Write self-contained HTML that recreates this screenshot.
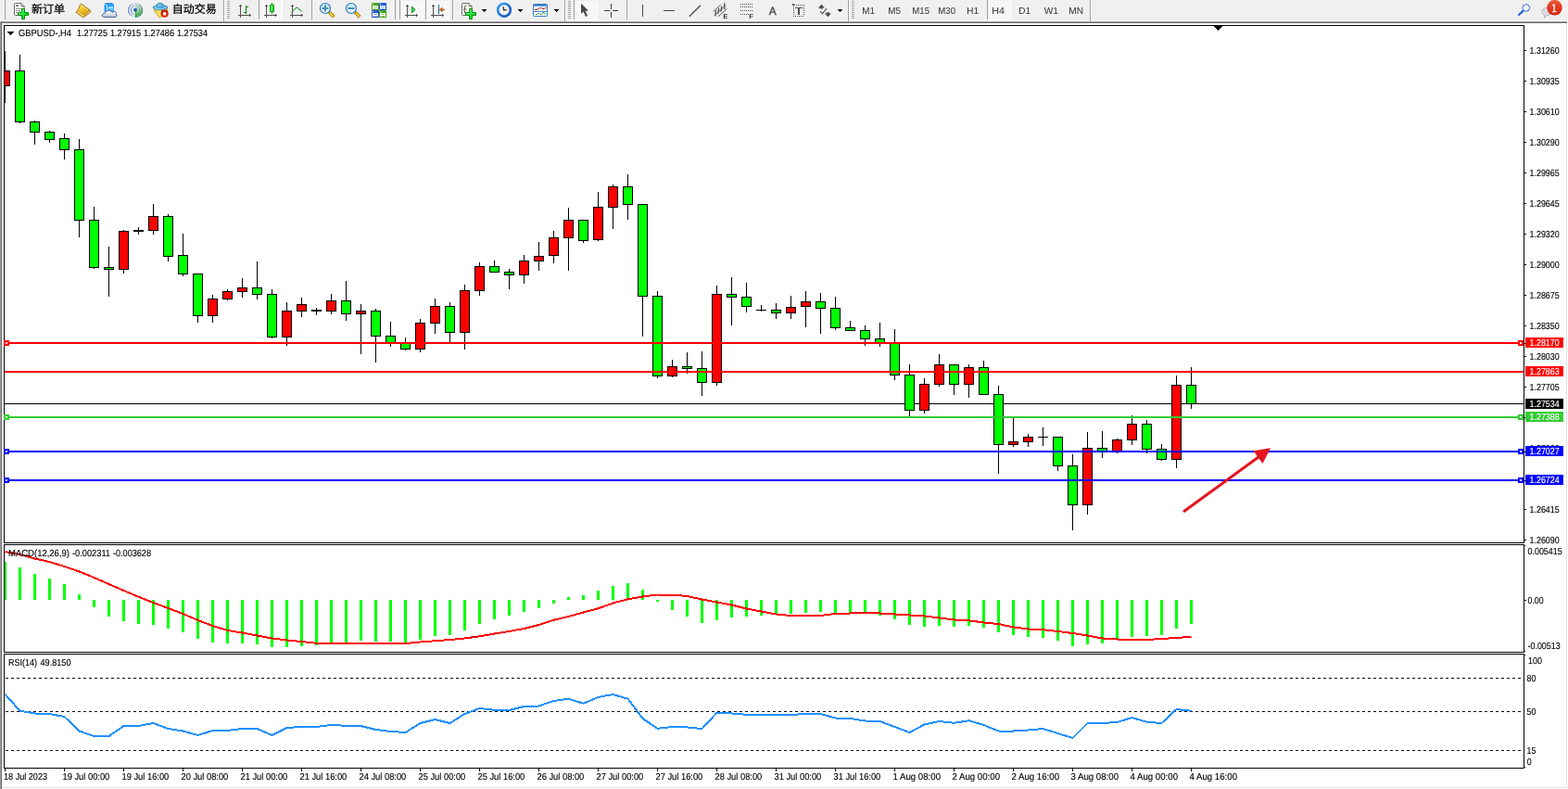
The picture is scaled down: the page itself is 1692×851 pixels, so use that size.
<!DOCTYPE html>
<html lang="zh-CN"><head><meta charset="utf-8"><title>GBPUSD-,H4</title>
<style>html,body{margin:0;padding:0;background:#fff;overflow:hidden}svg{display:block;font-family:"Liberation Sans","Noto Sans CJK SC",sans-serif;text-rendering:geometricPrecision}.c{shape-rendering:crispEdges}</style></head><body>
<svg width="1692" height="851" viewBox="0 0 1692 851">
<rect x="0" y="0" width="1692" height="851" fill="#fff"/>
<g id="toolbar">
<defs><pattern id="hatch" width="2" height="2" patternUnits="userSpaceOnUse"><rect width="2" height="2" fill="#fff"/><rect width="1" height="1" fill="#f0f0f0"/><rect x="1" y="1" width="1" height="1" fill="#f0f0f0"/></pattern><linearGradient id="gplus" x1="0" y1="0" x2="1" y2="1"><stop offset="0" stop-color="#8dff8d"/><stop offset="0.6" stop-color="#12e02c"/><stop offset="1" stop-color="#08b818"/></linearGradient><linearGradient id="ggold" x1="0" y1="0" x2="1" y2="1"><stop offset="0" stop-color="#fff4a8"/><stop offset="0.4" stop-color="#f2c628"/><stop offset="1" stop-color="#c4860c"/></linearGradient><linearGradient id="gcloud" x1="0" y1="0" x2="0" y2="1"><stop offset="0" stop-color="#ffffff"/><stop offset="1" stop-color="#b4c2da"/></linearGradient><linearGradient id="gbox" x1="0" y1="0" x2="1" y2="1"><stop offset="0" stop-color="#1590f2"/><stop offset="1" stop-color="#48bcff"/></linearGradient><linearGradient id="ghat" x1="0" y1="0" x2="1" y2="1"><stop offset="0" stop-color="#8ccdf5"/><stop offset="1" stop-color="#4aa4dc"/></linearGradient><linearGradient id="gface" x1="0" y1="0" x2="1" y2="1"><stop offset="0" stop-color="#f3cf3a"/><stop offset="1" stop-color="#fff48a"/></linearGradient><radialGradient id="gred" cx="0.5" cy="0.7" r="0.7"><stop offset="0" stop-color="#f83000"/><stop offset="1" stop-color="#b81600"/></radialGradient><linearGradient id="gbadge" x1="0" y1="0" x2="0" y2="1"><stop offset="0" stop-color="#ee5535"/><stop offset="1" stop-color="#d82010"/></linearGradient><linearGradient id="glens" x1="0" y1="0" x2="0" y2="1"><stop offset="0" stop-color="#c8ecff"/><stop offset="1" stop-color="#eefcff"/></linearGradient><linearGradient id="gclock" x1="0" y1="0" x2="1" y2="1"><stop offset="0" stop-color="#2a9cff"/><stop offset="1" stop-color="#004cb0"/></linearGradient><linearGradient id="gtitle" x1="0" y1="0" x2="0" y2="1"><stop offset="0" stop-color="#2a6cc0"/><stop offset="1" stop-color="#7ab4ec"/></linearGradient><linearGradient id="ggreen" x1="0" y1="0" x2="1" y2="1"><stop offset="0" stop-color="#4aa818"/><stop offset="1" stop-color="#3a9808"/></linearGradient><linearGradient id="gblue" x1="0" y1="0" x2="1" y2="1"><stop offset="0" stop-color="#3a68e0"/><stop offset="1" stop-color="#0a3cc0"/></linearGradient><linearGradient id="gcandle" x1="0" y1="0" x2="1" y2="0"><stop offset="0" stop-color="#7af07a"/><stop offset="1" stop-color="#20d830"/></linearGradient></defs>
<rect x="0" y="0" width="1692" height="23" fill="#f0f0f0"/>
<rect x="0" y="22" width="1692" height="1" fill="#f6f6f6"/>
<rect x="5" y="0" width="1" height="21" fill="#a0a0a0" class="c"/>
<path d="M16.5 3.5h6.5l3 3v9a1 1 0 0 1 -1 1h-8.5a1 1 0 0 1 -1 -1v-11a1 1 0 0 1 1 -1z" fill="#fff" stroke="#6c6c6c" stroke-width="1"/>
<path d="M23 3.5v3h3" fill="#f4f4f4" stroke="#6c6c6c" stroke-width="1"/>
<rect x="17" y="5" width="3" height="2" fill="#8a8a8a"/>
<rect x="17" y="9" width="6" height="1" fill="#9a9a9a"/>
<rect x="17" y="11" width="5" height="1" fill="#9a9a9a"/>
<rect x="17" y="13" width="3" height="1" fill="#9a9a9a"/>
<path d="M23.5 9.5h3v4h4v3h-4v4h-3v-4h-4v-3h4z" fill="url(#gplus)" stroke="#078a12" stroke-width="1"/>
<text x="34" y="14" font-size="12" fill="#000" font-family='"Liberation Sans","Noto Sans CJK SC",sans-serif' stroke="#000" stroke-width="0.25">新订单</text>
<path d="M87.3 4 L96.8 10.8 L98 12.8 L90 19 L82 13.4 Q85.6 10 86.3 5.4 Z" fill="url(#ggold)" stroke="#a8700c" stroke-width="1" stroke-linejoin="round"/>
<path d="M83 13.3 L84.3 11.9 L91.6 16.9 L90 18.2 Z" fill="#f3d77c"/>
<path d="M91.8 17 L96.6 11.4 L97.3 12.8 L90.6 18.2 Z" fill="#e6d8a0"/>
<path d="M84.3 11.9 L91.6 16.9 L96.6 11" fill="none" stroke="#b07a10" stroke-width="0.7" opacity="0.8"/>
<path d="M87.6 5.6 L95 11" fill="none" stroke="#fff6b8" stroke-width="1" opacity="0.8"/>
<path d="M112.5 4.2 L114 3.4 L121 3.4 L123 5 L123 13 L112.5 13 Z" fill="url(#gbox)"/>
<path d="M112.6 4.4 L115.6 6.2 L115.6 12.6" fill="none" stroke="#e4f4ff" stroke-width="0.9"/>
<path d="M113.4 3.6 L121 3.6 L122.8 5" fill="none" stroke="#3a78d8" stroke-width="0.8"/>
<rect x="117" y="7.6" width="5" height="1.2" fill="#eaf7ff"/>
<rect x="116.4" y="9.6" width="6.2" height="0.9" fill="#7ccfff"/>
<path d="M112.6 18.5 C110.8 18.5 110.1 17.4 110.4 16.2 C110.7 14.9 111.8 14.3 113.2 14.4 C113.5 12.6 115.2 11.4 117.5 11.4 C119.2 11.4 120.4 12.2 121 13.4 C122 12.3 123.8 12.1 124.8 13 C125.6 13.7 125.7 14.6 125.4 15.3 C126.4 16.2 126.1 18.5 124 18.5 Z" fill="url(#gcloud)" stroke="#4a6098" stroke-width="1" stroke-linejoin="round"/>
<defs><linearGradient id="gsig" x1="0" y1="0" x2="1" y2="0"><stop offset="0" stop-color="#2e5cd2"/><stop offset="0.45" stop-color="#9ab4e6"/><stop offset="0.55" stop-color="#8fb4a4"/><stop offset="1" stop-color="#3c7c96"/></linearGradient><linearGradient id="gsigw" x1="0" y1="0" x2="0.3" y2="1"><stop offset="0" stop-color="#d8ecd0" stop-opacity="0.5"/><stop offset="0.55" stop-color="#a4d49c" stop-opacity="0.85"/><stop offset="1" stop-color="#2ea02e"/></linearGradient><radialGradient id="gsigf" cx="0.5" cy="0.5" r="0.5"><stop offset="0.55" stop-color="#fff" stop-opacity="0"/><stop offset="1" stop-color="#fff" stop-opacity="0"/></radialGradient></defs>
<path d="M146.5 3.2 A7.8 7.8 0 0 1 146.5 18.8 Z" fill="url(#gsigw)"/>
<circle cx="146" cy="11" r="7.4" fill="none" stroke="url(#gsig)" stroke-width="1.1" opacity="0.8"/>
<circle cx="146" cy="11" r="4.6" fill="none" stroke="url(#gsig)" stroke-width="1.1" opacity="0.65"/>
<path d="M141.5 4.6 A7.8 7.8 0 0 1 150.5 4.6" fill="none" stroke="#f0f0f0" stroke-width="1.6" opacity="0.75"/>
<path d="M141 17.2 A7.8 7.8 0 0 0 146 18.9" fill="none" stroke="#f0f0f0" stroke-width="1.6" opacity="0.75"/>
<circle cx="146" cy="10.8" r="2" fill="#2a58d0"/>
<rect x="146" y="11" width="1.2" height="8" fill="#18a018"/>
<path d="M165.8 10 L180.6 9.2 L180 12 L173 18.8 L171.6 18.6 Z" fill="url(#gface)" stroke="#c8a018" stroke-width="1" stroke-linejoin="round"/>
<ellipse cx="173" cy="8" rx="7.8" ry="2.5" fill="url(#ghat)" stroke="#2a8cba" stroke-width="1"/>
<ellipse cx="172.8" cy="6.2" rx="3.6" ry="2.9" fill="url(#ghat)" stroke="#2a8cba" stroke-width="1"/>
<path d="M167 8.6q6 2.2 12.6 -0.6" fill="none" stroke="#8fd0f8" stroke-width="1.2"/>
<circle cx="177.6" cy="14.7" r="4.1" fill="url(#gred)"/>
<rect x="176" y="13.2" width="3.2" height="3.2" fill="#fff"/>
<text x="185.7" y="14" font-size="12" fill="#000" font-family='"Liberation Sans","Noto Sans CJK SC",sans-serif' stroke="#000" stroke-width="0.25">自动交易</text>
<rect x="241" y="0" width="1" height="24" fill="#a0a0a0" class="c"/>
<rect x="242" y="0" width="1" height="23" fill="#fbfbfb" class="c"/>
<rect x="245" y="1" width="3" height="1" fill="#a6a6a6" class="c"/>
<rect x="245" y="3" width="3" height="1" fill="#a6a6a6" class="c"/>
<rect x="245" y="5" width="3" height="1" fill="#a6a6a6" class="c"/>
<rect x="245" y="7" width="3" height="1" fill="#a6a6a6" class="c"/>
<rect x="245" y="9" width="3" height="1" fill="#a6a6a6" class="c"/>
<rect x="245" y="11" width="3" height="1" fill="#a6a6a6" class="c"/>
<rect x="245" y="13" width="3" height="1" fill="#a6a6a6" class="c"/>
<rect x="245" y="15" width="3" height="1" fill="#a6a6a6" class="c"/>
<rect x="245" y="17" width="3" height="1" fill="#a6a6a6" class="c"/>
<rect x="245" y="19" width="3" height="1" fill="#a6a6a6" class="c"/>
<g class="c" fill="#505050">
<rect x="259" y="5" width="1" height="14" fill="#505050"/>
<rect x="258" y="6" width="3" height="1" fill="#505050"/>
<rect x="257" y="16" width="14" height="1" fill="#505050"/>
<rect x="269" y="15" width="1" height="3" fill="#505050"/>
</g>
<g class="c">
<rect x="265" y="6" width="1" height="9" fill="#008800"/>
<rect x="266" y="7" width="2" height="1" fill="#008800"/>
<rect x="263" y="13" width="2" height="1" fill="#008800"/>
</g>
<rect x="279" y="0" width="1" height="21" fill="#a0a0a0" class="c"/>
<rect x="281" y="1" width="23" height="20" fill="url(#hatch)" class="c"/>
<rect x="304" y="0" width="1" height="22" fill="#fff" class="c"/>
<rect x="279" y="21" width="26" height="1" fill="#fff" class="c"/>
<g class="c" fill="#505050">
<rect x="287" y="5" width="1" height="14" fill="#505050"/>
<rect x="286" y="6" width="3" height="1" fill="#505050"/>
<rect x="285" y="16" width="14" height="1" fill="#505050"/>
<rect x="297" y="15" width="1" height="3" fill="#505050"/>
</g>
<rect x="293" y="3" width="1" height="12" fill="#00a000" class="c"/>
<rect x="291.5" y="5.5" width="4" height="7" fill="url(#gcandle)" stroke="#00a000" stroke-width="1"/>
<g class="c" fill="#505050">
<rect x="315" y="5" width="1" height="14" fill="#505050"/>
<rect x="314" y="6" width="3" height="1" fill="#505050"/>
<rect x="313" y="16" width="14" height="1" fill="#505050"/>
<rect x="325" y="15" width="1" height="3" fill="#505050"/>
</g>
<path d="M314.3 13.6 Q317.5 11 319 9 Q320.2 7.6 321.4 8.6 Q323.6 11 325.6 12" fill="none" stroke="#2ea52e" stroke-width="1.1"/>
<rect x="336" y="0" width="1" height="21" fill="#a0a0a0" class="c"/>
<path d="M355 13 L360.3 18.3" stroke="#a87010" stroke-width="3.6" stroke-linecap="butt"/>
<path d="M355.6 13.6 L359.9 17.9" stroke="#f4dc30" stroke-width="2" stroke-linecap="butt"/>
<circle cx="351" cy="9" r="5.5" fill="url(#glens)" stroke="#2a74c4" stroke-width="1.2"/>
<rect x="347.5" y="8" width="7" height="2" fill="#4a8cb4"/>
<rect x="350" y="5.5" width="2" height="7" fill="#4a8cb4"/>
<path d="M383 13 L388.3 18.3" stroke="#a87010" stroke-width="3.6" stroke-linecap="butt"/>
<path d="M383.6 13.6 L387.9 17.9" stroke="#f4dc30" stroke-width="2" stroke-linecap="butt"/>
<circle cx="379" cy="9" r="5.5" fill="url(#glens)" stroke="#2a74c4" stroke-width="1.2"/>
<rect x="375.5" y="8" width="7" height="2" fill="#4a8cb4"/>
<rect x="401" y="3" width="8" height="8" rx="1" fill="url(#ggreen)"/>
<rect x="402" y="4" width="1" height="1" fill="#e8f0e8"/>
<rect x="402" y="6" width="6" height="4" fill="#fff"/>
<rect x="403" y="7" width="4" height="1" fill="#4aa818" opacity="0.6"/>
<rect x="403" y="9" width="4" height="1" fill="#4aa818" opacity="0.5"/>
<rect x="409" y="3" width="8" height="8" rx="1" fill="url(#gblue)"/>
<rect x="410" y="4" width="1" height="1" fill="#e8f0e8"/>
<rect x="410" y="6" width="6" height="4" fill="#fff"/>
<rect x="411" y="7" width="4" height="1" fill="#3a68e0" opacity="0.6"/>
<rect x="411" y="9" width="4" height="1" fill="#3a68e0" opacity="0.5"/>
<rect x="401" y="11" width="8" height="8" rx="1" fill="url(#gblue)"/>
<rect x="402" y="12" width="1" height="1" fill="#e8f0e8"/>
<rect x="402" y="14" width="6" height="4" fill="#fff"/>
<rect x="403" y="15" width="4" height="1" fill="#3a68e0" opacity="0.6"/>
<rect x="403" y="17" width="4" height="1" fill="#3a68e0" opacity="0.5"/>
<rect x="409" y="11" width="8" height="8" rx="1" fill="url(#ggreen)"/>
<rect x="410" y="12" width="1" height="1" fill="#e8f0e8"/>
<rect x="410" y="14" width="6" height="4" fill="#fff"/>
<rect x="411" y="15" width="4" height="1" fill="#4aa818" opacity="0.6"/>
<rect x="411" y="17" width="4" height="1" fill="#4aa818" opacity="0.5"/>
<rect x="426" y="0" width="1" height="21" fill="#a0a0a0" class="c"/>
<rect x="431" y="0" width="1" height="21" fill="#a0a0a0" class="c"/>
<rect x="433" y="1" width="23" height="20" fill="url(#hatch)" class="c"/>
<rect x="456" y="0" width="1" height="22" fill="#fff" class="c"/>
<rect x="431" y="21" width="26" height="1" fill="#fff" class="c"/>
<g class="c" fill="#505050">
<rect x="439" y="5" width="1" height="14" fill="#505050"/>
<rect x="438" y="6" width="3" height="1" fill="#505050"/>
<rect x="437" y="16" width="14" height="1" fill="#505050"/>
<rect x="449" y="15" width="1" height="3" fill="#505050"/>
</g>
<path d="M444.5 7.3 L447.7 10.5 L444.5 13.7 Z" fill="#7aee8a" stroke="#0c9c14" stroke-width="1.1" stroke-linejoin="round"/>
<rect x="459" y="0" width="1" height="21" fill="#a0a0a0" class="c"/>
<rect x="461" y="1" width="23" height="20" fill="url(#hatch)" class="c"/>
<rect x="484" y="0" width="1" height="22" fill="#fff" class="c"/>
<rect x="459" y="21" width="26" height="1" fill="#fff" class="c"/>
<g class="c" fill="#505050">
<rect x="467" y="5" width="1" height="14" fill="#505050"/>
<rect x="466" y="6" width="3" height="1" fill="#505050"/>
<rect x="465" y="16" width="14" height="1" fill="#505050"/>
<rect x="477" y="15" width="1" height="3" fill="#505050"/>
</g>
<rect x="473" y="5" width="1" height="10" fill="#1070a0" class="c"/>
<path d="M474.3 10.5 L477.2 8.2 L476.6 10 L479.4 10 L479.4 11 L476.6 11 L477.2 12.8 Z" fill="#ff6a10" stroke="#a83000" stroke-width="0.6" stroke-linejoin="round"/>
<rect x="488" y="0" width="1" height="21" fill="#a0a0a0" class="c"/>
<path d="M499.5 3.5h6.5l3 3v9a1 1 0 0 1 -1 1h-8.5a1 1 0 0 1 -1 -1v-11a1 1 0 0 1 1 -1z" fill="#fff" stroke="#6c6c6c" stroke-width="1"/>
<path d="M506 3.5v3h3" fill="#f4f4f4" stroke="#6c6c6c" stroke-width="1"/>
<path d="M503.4 6q-2 0 -2 1.6v1.6q0 1 -0.9 1q0.9 0 0.9 1v1.8q0 1.4 1.6 1.4" fill="none" stroke="#54482c" stroke-width="1"/>
<rect x="501.4" y="9.6" width="2.4" height="0.9" fill="#54482c"/>
<path d="M506.5 9.5h3v4h4v3h-4v4h-3v-4h-4v-3h4z" fill="url(#gplus)" stroke="#078a12" stroke-width="1"/>
<path class="c" d="M520 10h5v1h-1v1h-1v1h-1v-1h-1v-1h-1z" fill="#000"/>
<circle cx="544" cy="10.8" r="6.9" fill="#f2f2f2" stroke="url(#gclock)" stroke-width="2.4"/>
<circle cx="544" cy="10.8" r="5" fill="none" stroke="#909090" stroke-width="0.9" stroke-dasharray="0.7 1.92"/>
<path d="M543.2 7.2 L543.6 10.8 L546.6 10.6" fill="none" stroke="#202020" stroke-width="1.2"/>
<path class="c" d="M559 10h5v1h-1v1h-1v1h-1v-1h-1v-1h-1z" fill="#000"/>
<rect x="575.5" y="4.5" width="15" height="13" rx="0.8" fill="#fff" stroke="#3a7ac8" stroke-width="1"/>
<rect x="576" y="5" width="14" height="2" fill="url(#gtitle)"/>
<rect x="576" y="12" width="14" height="1" fill="#4a88d0"/>
<path d="M577 10.5h2l1.5 -1h1l1 -1h1.5l1 1h2l1.5 -1h1" fill="none" stroke="#981808" stroke-width="1"/>
<path d="M578 15.5h1.5l1 -1h1.5l1 1h1.5l1.5 -2h1l2 2.2" fill="none" stroke="#189828" stroke-width="1"/>
<path class="c" d="M598 10h5v1h-1v1h-1v1h-1v-1h-1v-1h-1z" fill="#000"/>
<rect x="609" y="0" width="1" height="24" fill="#a0a0a0" class="c"/>
<rect x="610" y="0" width="1" height="23" fill="#fbfbfb" class="c"/>
<rect x="613" y="1" width="3" height="1" fill="#a6a6a6" class="c"/>
<rect x="613" y="3" width="3" height="1" fill="#a6a6a6" class="c"/>
<rect x="613" y="5" width="3" height="1" fill="#a6a6a6" class="c"/>
<rect x="613" y="7" width="3" height="1" fill="#a6a6a6" class="c"/>
<rect x="613" y="9" width="3" height="1" fill="#a6a6a6" class="c"/>
<rect x="613" y="11" width="3" height="1" fill="#a6a6a6" class="c"/>
<rect x="613" y="13" width="3" height="1" fill="#a6a6a6" class="c"/>
<rect x="613" y="15" width="3" height="1" fill="#a6a6a6" class="c"/>
<rect x="613" y="17" width="3" height="1" fill="#a6a6a6" class="c"/>
<rect x="613" y="19" width="3" height="1" fill="#a6a6a6" class="c"/>
<rect x="619" y="0" width="1" height="21" fill="#a0a0a0" class="c"/>
<rect x="621" y="1" width="23" height="20" fill="url(#hatch)" class="c"/>
<rect x="644" y="0" width="1" height="22" fill="#fff" class="c"/>
<rect x="619" y="21" width="26" height="1" fill="#fff" class="c"/>
<path d="M627 3.8 L627 15 L629.6 12.6 L632 17.9 L634 17 L631.7 11.8 L635 11.4 Z" fill="#484848"/>
<g class="c">
<rect x="652" y="11" width="6" height="1" fill="#383838"/>
<rect x="661" y="11" width="6" height="1" fill="#383838"/>
<rect x="659" y="4" width="1" height="6" fill="#383838"/>
<rect x="659" y="13" width="1" height="6" fill="#383838"/>
<rect x="659" y="11" width="1" height="1" fill="#9a9a88"/>
</g>
<rect x="676" y="0" width="1" height="21" fill="#a0a0a0" class="c"/>
<g class="c">
<rect x="693" y="5" width="1" height="13" fill="#484848"/>
<rect x="716" y="11" width="12" height="1" fill="#484848"/>
</g>
<path d="M743.8 17.8 L756 5.8" stroke="#484848" stroke-width="1.25"/>
<g stroke="#484848" stroke-width="0.9" fill="none">
<path d="M769.8 12.4 L777.8 5"/><path d="M770.8 16.8 L783.3 5.6"/><path d="M775 17.8 L784.4 9.4"/>
<path d="M772.5 11 L771.8 17.5" stroke-width="1.2"/><path d="M775.6 8.6 L774.8 14.8" stroke-width="1.2"/><path d="M778.8 6.6 L778 12.6" stroke-width="1.2"/><path d="M781.6 3.2 L781.9 10" stroke-width="1.2"/>
</g>
<text x="780.6" y="20" font-size="7" fill="#383838" stroke="#383838" stroke-width="0.14" font-weight="bold">E</text>
<g class="c">
<rect x="799" y="4" width="1" height="1" fill="#484848"/>
<rect x="801" y="4" width="1" height="1" fill="#484848"/>
<rect x="803" y="4" width="1" height="1" fill="#484848"/>
<rect x="805" y="4" width="1" height="1" fill="#484848"/>
<rect x="807" y="4" width="1" height="1" fill="#484848"/>
<rect x="809" y="4" width="1" height="1" fill="#484848"/>
<rect x="811" y="4" width="1" height="1" fill="#484848"/>
<rect x="799" y="7" width="1" height="1" fill="#484848"/>
<rect x="801" y="7" width="1" height="1" fill="#484848"/>
<rect x="803" y="7" width="1" height="1" fill="#484848"/>
<rect x="805" y="7" width="1" height="1" fill="#484848"/>
<rect x="807" y="7" width="1" height="1" fill="#484848"/>
<rect x="809" y="7" width="1" height="1" fill="#484848"/>
<rect x="811" y="7" width="1" height="1" fill="#484848"/>
<rect x="799" y="11" width="1" height="1" fill="#484848"/>
<rect x="801" y="11" width="1" height="1" fill="#484848"/>
<rect x="803" y="11" width="1" height="1" fill="#484848"/>
<rect x="805" y="11" width="1" height="1" fill="#484848"/>
<rect x="807" y="11" width="1" height="1" fill="#484848"/>
<rect x="809" y="11" width="1" height="1" fill="#484848"/>
<rect x="811" y="11" width="1" height="1" fill="#484848"/>
<rect x="799" y="15" width="1" height="1" fill="#484848"/>
<rect x="801" y="15" width="1" height="1" fill="#484848"/>
<rect x="803" y="15" width="1" height="1" fill="#484848"/>
<rect x="805" y="15" width="1" height="1" fill="#484848"/>
<rect x="807" y="15" width="1" height="1" fill="#484848"/>
</g>
<text x="808.6" y="20" font-size="7" fill="#383838" stroke="#383838" stroke-width="0.14" font-weight="bold">F</text>
<text x="833.7" y="16" font-size="12" fill="#484848" text-anchor="middle" stroke="#484848" stroke-width="0.4">A</text>
<g class="c">
<rect x="855" y="4" width="2" height="1" fill="#505050"/>
<rect x="855" y="5" width="3" height="1" fill="#505050"/>
<rect x="859" y="5" width="1" height="1" fill="#505050"/>
<rect x="861" y="5" width="1" height="1" fill="#505050"/>
<rect x="863" y="5" width="1" height="1" fill="#505050"/>
<rect x="865" y="5" width="1" height="1" fill="#505050"/>
<rect x="867" y="5" width="1" height="1" fill="#505050"/>
<rect x="856" y="7" width="1" height="1" fill="#505050"/>
<rect x="856" y="9" width="1" height="1" fill="#505050"/>
<rect x="856" y="11" width="1" height="1" fill="#505050"/>
<rect x="856" y="13" width="1" height="1" fill="#505050"/>
<rect x="856" y="15" width="1" height="1" fill="#505050"/>
<rect x="856" y="17" width="1" height="1" fill="#505050"/>
<rect x="867" y="7" width="1" height="1" fill="#505050"/>
<rect x="867" y="9" width="1" height="1" fill="#505050"/>
<rect x="867" y="11" width="1" height="1" fill="#505050"/>
<rect x="867" y="13" width="1" height="1" fill="#505050"/>
<rect x="867" y="15" width="1" height="1" fill="#505050"/>
<rect x="858" y="17" width="1" height="1" fill="#505050"/>
<rect x="860" y="17" width="1" height="1" fill="#505050"/>
<rect x="862" y="17" width="1" height="1" fill="#505050"/>
<rect x="864" y="17" width="1" height="1" fill="#505050"/>
<rect x="866" y="17" width="1" height="1" fill="#505050"/>
<rect x="858" y="8" width="8" height="1" fill="#505050"/>
<rect x="861" y="9" width="2" height="7" fill="#505050"/>
</g>
<path d="M886.4 4.8 L890 8.4 L888 8.4 L888 9.6 L884.8 9.6 L884.8 8.4 L882.8 8.4 Z" fill="#505050"/>
<path d="M893.4 18.2 L897 14.4 L895 14.4 L895 13.2 L891.8 13.2 L891.8 14.4 L889.8 14.4 Z" fill="#505050"/>
<path d="M885 12.2 L887.5 14.6 L892 9.2" fill="none" stroke="#505050" stroke-width="1.1"/>
<path class="c" d="M904 10h5v1h-1v1h-1v1h-1v-1h-1v-1h-1z" fill="#000"/>
<rect x="915" y="0" width="1" height="24" fill="#a0a0a0" class="c"/>
<rect x="916" y="0" width="1" height="23" fill="#fbfbfb" class="c"/>
<rect x="919" y="1" width="3" height="1" fill="#a6a6a6" class="c"/>
<rect x="919" y="3" width="3" height="1" fill="#a6a6a6" class="c"/>
<rect x="919" y="5" width="3" height="1" fill="#a6a6a6" class="c"/>
<rect x="919" y="7" width="3" height="1" fill="#a6a6a6" class="c"/>
<rect x="919" y="9" width="3" height="1" fill="#a6a6a6" class="c"/>
<rect x="919" y="11" width="3" height="1" fill="#a6a6a6" class="c"/>
<rect x="919" y="13" width="3" height="1" fill="#a6a6a6" class="c"/>
<rect x="919" y="15" width="3" height="1" fill="#a6a6a6" class="c"/>
<rect x="919" y="17" width="3" height="1" fill="#a6a6a6" class="c"/>
<rect x="919" y="19" width="3" height="1" fill="#a6a6a6" class="c"/>
<rect x="1065" y="0" width="1" height="21" fill="#a0a0a0" class="c"/>
<rect x="1067" y="1" width="23" height="20" fill="url(#hatch)" class="c"/>
<rect x="1090" y="0" width="1" height="22" fill="#fff" class="c"/>
<rect x="1065" y="21" width="26" height="1" fill="#fff" class="c"/>
<text x="930.3" y="15" font-size="10.2" fill="#303030" textLength="13.7" lengthAdjust="spacingAndGlyphs" stroke="none">M1</text>
<text x="958.3" y="15" font-size="10.2" fill="#303030" textLength="13.7" lengthAdjust="spacingAndGlyphs" stroke="none">M5</text>
<text x="984.3" y="15" font-size="10.2" fill="#303030" textLength="18.7" lengthAdjust="spacingAndGlyphs" stroke="none">M15</text>
<text x="1012.3" y="15" font-size="10.2" fill="#303030" textLength="18.7" lengthAdjust="spacingAndGlyphs" stroke="none">M30</text>
<text x="1043.3" y="15" font-size="10.2" fill="#303030" textLength="12.7" lengthAdjust="spacingAndGlyphs" stroke="none">H1</text>
<text x="1070.3" y="15" font-size="10.2" fill="#303030" textLength="13.7" lengthAdjust="spacingAndGlyphs" stroke="none">H4</text>
<text x="1099.3" y="15" font-size="10.2" fill="#303030" textLength="12.7" lengthAdjust="spacingAndGlyphs" stroke="none">D1</text>
<text x="1126.8" y="15" font-size="10.2" fill="#303030" textLength="15.2" lengthAdjust="spacingAndGlyphs" stroke="none">W1</text>
<text x="1153.3" y="15" font-size="10.2" fill="#303030" textLength="15.7" lengthAdjust="spacingAndGlyphs" stroke="none">MN</text>
<rect x="1176" y="0" width="1" height="24" fill="#a0a0a0" class="c"/>
<rect x="1177" y="0" width="1" height="23" fill="#fbfbfb" class="c"/>
<path d="M1643.6 11.6 L1639 16" stroke="#2a60d0" stroke-width="2.2" stroke-linecap="round"/>
<circle cx="1646.8" cy="8.5" r="3.8" fill="#f6f6fa" stroke="#2a6ad8" stroke-width="1"/>
<path d="M1664 12.5a5 4.2 0 0 1 10 0a5 4.2 0 0 1 -5 4.2l-2.6 2.6l0.2 -3a5 4.2 0 0 1 -2.6 -3.8z" fill="#dcdce6" stroke="#a8a8ae" stroke-width="0.8"/>
<circle cx="1677.5" cy="8.3" r="8.3" fill="url(#gbadge)"/>
<text x="1677" y="13" font-size="13" fill="#fff" text-anchor="middle" font-family='"Liberation Serif",serif' stroke="#fff" stroke-width="0.3">1</text>
</g>
<g class="c">
<rect x="0" y="23" width="1691" height="1" fill="#a0a0a0"/>
<rect x="0" y="24" width="1691" height="1" fill="#696969"/>
<rect x="0" y="24" width="1" height="827" fill="#a0a0a0"/>
<rect x="1" y="25" width="1" height="826" fill="#696969"/>
<rect x="1690" y="25" width="1" height="825" fill="#e3e3e3"/>
<rect x="2" y="849" width="1689" height="1" fill="#e3e3e3"/>
</g>
<g id="chart" class="c">
<rect x="4" y="27" width="1641" height="1" fill="#000"/>
<rect x="4" y="27" width="1" height="802" fill="#000"/>
<rect x="1644" y="27" width="1" height="802" fill="#000"/>
<rect x="4" y="585" width="1641" height="1" fill="#000"/>
<rect x="4" y="587" width="1641" height="1" fill="#000"/>
<rect x="4" y="703" width="1641" height="1" fill="#000"/>
<rect x="4" y="705" width="1641" height="1" fill="#000"/>
<rect x="4" y="828" width="1641" height="1" fill="#000"/>
<rect x="4" y="586" width="1641" height="1" fill="#fff"/>
<rect x="4" y="704" width="1641" height="1" fill="#fff"/>
<rect x="1310" y="28" width="9" height="1" fill="#000"/>
<rect x="1311" y="29" width="7" height="1" fill="#000"/>
<rect x="1312" y="30" width="5" height="1" fill="#000"/>
<rect x="1313" y="31" width="3" height="1" fill="#000"/>
<rect x="1314" y="32" width="1" height="1" fill="#000"/>
<rect x="8" y="34" width="7" height="1" fill="#000"/>
<rect x="9" y="35" width="5" height="1" fill="#000"/>
<rect x="10" y="36" width="3" height="1" fill="#000"/>
<rect x="11" y="37" width="1" height="1" fill="#000"/>
<rect x="5" y="435" width="1639" height="1" fill="#000"/>
<clipPath id="cp"><rect x="5" y="28" width="1639" height="557"/></clipPath>
<g clip-path="url(#cp)">
<rect x="5" y="55" width="1" height="56" fill="#000"/>
<rect x="0" y="76" width="11" height="17" fill="#000"/>
<rect x="1" y="77" width="9" height="15" fill="#ff0000"/>
<rect x="21" y="59" width="1" height="74" fill="#000"/>
<rect x="16" y="76" width="11" height="56" fill="#000"/>
<rect x="17" y="77" width="9" height="54" fill="#00ff00"/>
<rect x="37" y="130" width="1" height="26" fill="#000"/>
<rect x="32" y="131" width="11" height="12" fill="#000"/>
<rect x="33" y="132" width="9" height="10" fill="#00ff00"/>
<rect x="53" y="141" width="1" height="13" fill="#000"/>
<rect x="48" y="142" width="11" height="9" fill="#000"/>
<rect x="49" y="143" width="9" height="7" fill="#00ff00"/>
<rect x="69" y="144" width="1" height="28" fill="#000"/>
<rect x="64" y="149" width="11" height="13" fill="#000"/>
<rect x="65" y="150" width="9" height="11" fill="#00ff00"/>
<rect x="85" y="150" width="1" height="106" fill="#000"/>
<rect x="80" y="161" width="11" height="77" fill="#000"/>
<rect x="81" y="162" width="9" height="75" fill="#00ff00"/>
<rect x="101" y="223" width="1" height="67" fill="#000"/>
<rect x="96" y="237" width="11" height="52" fill="#000"/>
<rect x="97" y="238" width="9" height="50" fill="#00ff00"/>
<rect x="117" y="266" width="1" height="54" fill="#000"/>
<rect x="112" y="288" width="11" height="3" fill="#000"/>
<rect x="113" y="289" width="9" height="1" fill="#00ff00"/>
<rect x="133" y="248" width="1" height="47" fill="#000"/>
<rect x="128" y="249" width="11" height="42" fill="#000"/>
<rect x="129" y="250" width="9" height="40" fill="#ff0000"/>
<rect x="149" y="245" width="1" height="8" fill="#000"/>
<rect x="144" y="248" width="11" height="2" fill="#000"/>
<rect x="165" y="220" width="1" height="33" fill="#000"/>
<rect x="160" y="233" width="11" height="16" fill="#000"/>
<rect x="161" y="234" width="9" height="14" fill="#ff0000"/>
<rect x="181" y="231" width="1" height="51" fill="#000"/>
<rect x="176" y="233" width="11" height="44" fill="#000"/>
<rect x="177" y="234" width="9" height="42" fill="#00ff00"/>
<rect x="197" y="252" width="1" height="46" fill="#000"/>
<rect x="192" y="275" width="11" height="21" fill="#000"/>
<rect x="193" y="276" width="9" height="19" fill="#00ff00"/>
<rect x="213" y="295" width="1" height="53" fill="#000"/>
<rect x="208" y="295" width="11" height="46" fill="#000"/>
<rect x="209" y="296" width="9" height="44" fill="#00ff00"/>
<rect x="229" y="318" width="1" height="30" fill="#000"/>
<rect x="224" y="322" width="11" height="19" fill="#000"/>
<rect x="225" y="323" width="9" height="17" fill="#ff0000"/>
<rect x="245" y="312" width="1" height="12" fill="#000"/>
<rect x="240" y="314" width="11" height="9" fill="#000"/>
<rect x="241" y="315" width="9" height="7" fill="#ff0000"/>
<rect x="261" y="300" width="1" height="21" fill="#000"/>
<rect x="256" y="310" width="11" height="5" fill="#000"/>
<rect x="257" y="311" width="9" height="3" fill="#ff0000"/>
<rect x="277" y="282" width="1" height="41" fill="#000"/>
<rect x="272" y="310" width="11" height="8" fill="#000"/>
<rect x="273" y="311" width="9" height="6" fill="#00ff00"/>
<rect x="293" y="312" width="1" height="53" fill="#000"/>
<rect x="288" y="317" width="11" height="47" fill="#000"/>
<rect x="289" y="318" width="9" height="45" fill="#00ff00"/>
<rect x="309" y="326" width="1" height="47" fill="#000"/>
<rect x="304" y="335" width="11" height="29" fill="#000"/>
<rect x="305" y="336" width="9" height="27" fill="#ff0000"/>
<rect x="325" y="321" width="1" height="21" fill="#000"/>
<rect x="320" y="328" width="11" height="8" fill="#000"/>
<rect x="321" y="329" width="9" height="6" fill="#ff0000"/>
<rect x="341" y="332" width="1" height="8" fill="#000"/>
<rect x="336" y="334" width="11" height="2" fill="#000"/>
<rect x="357" y="317" width="1" height="22" fill="#000"/>
<rect x="352" y="324" width="11" height="12" fill="#000"/>
<rect x="353" y="325" width="9" height="10" fill="#ff0000"/>
<rect x="373" y="303" width="1" height="43" fill="#000"/>
<rect x="368" y="324" width="11" height="15" fill="#000"/>
<rect x="369" y="325" width="9" height="13" fill="#00ff00"/>
<rect x="389" y="328" width="1" height="54" fill="#000"/>
<rect x="384" y="335" width="11" height="4" fill="#000"/>
<rect x="385" y="336" width="9" height="2" fill="#ff0000"/>
<rect x="405" y="333" width="1" height="58" fill="#000"/>
<rect x="400" y="335" width="11" height="28" fill="#000"/>
<rect x="401" y="336" width="9" height="26" fill="#00ff00"/>
<rect x="421" y="347" width="1" height="27" fill="#000"/>
<rect x="416" y="362" width="11" height="9" fill="#000"/>
<rect x="417" y="363" width="9" height="7" fill="#00ff00"/>
<rect x="437" y="364" width="1" height="14" fill="#000"/>
<rect x="432" y="370" width="11" height="7" fill="#000"/>
<rect x="433" y="371" width="9" height="5" fill="#00ff00"/>
<rect x="453" y="344" width="1" height="36" fill="#000"/>
<rect x="448" y="348" width="11" height="29" fill="#000"/>
<rect x="449" y="349" width="9" height="27" fill="#ff0000"/>
<rect x="469" y="322" width="1" height="38" fill="#000"/>
<rect x="464" y="330" width="11" height="19" fill="#000"/>
<rect x="465" y="331" width="9" height="17" fill="#ff0000"/>
<rect x="485" y="326" width="1" height="43" fill="#000"/>
<rect x="480" y="330" width="11" height="29" fill="#000"/>
<rect x="481" y="331" width="9" height="27" fill="#00ff00"/>
<rect x="501" y="307" width="1" height="70" fill="#000"/>
<rect x="496" y="313" width="11" height="46" fill="#000"/>
<rect x="497" y="314" width="9" height="44" fill="#ff0000"/>
<rect x="517" y="283" width="1" height="36" fill="#000"/>
<rect x="512" y="287" width="11" height="27" fill="#000"/>
<rect x="513" y="288" width="9" height="25" fill="#ff0000"/>
<rect x="533" y="281" width="1" height="13" fill="#000"/>
<rect x="528" y="287" width="11" height="7" fill="#000"/>
<rect x="529" y="288" width="9" height="5" fill="#00ff00"/>
<rect x="549" y="290" width="1" height="22" fill="#000"/>
<rect x="544" y="293" width="11" height="4" fill="#000"/>
<rect x="545" y="294" width="9" height="2" fill="#00ff00"/>
<rect x="565" y="275" width="1" height="31" fill="#000"/>
<rect x="560" y="281" width="11" height="16" fill="#000"/>
<rect x="561" y="282" width="9" height="14" fill="#ff0000"/>
<rect x="581" y="261" width="1" height="31" fill="#000"/>
<rect x="576" y="276" width="11" height="6" fill="#000"/>
<rect x="577" y="277" width="9" height="4" fill="#ff0000"/>
<rect x="597" y="249" width="1" height="35" fill="#000"/>
<rect x="592" y="256" width="11" height="20" fill="#000"/>
<rect x="593" y="257" width="9" height="18" fill="#ff0000"/>
<rect x="613" y="224" width="1" height="68" fill="#000"/>
<rect x="608" y="237" width="11" height="20" fill="#000"/>
<rect x="609" y="238" width="9" height="18" fill="#ff0000"/>
<rect x="629" y="237" width="1" height="25" fill="#000"/>
<rect x="624" y="237" width="11" height="23" fill="#000"/>
<rect x="625" y="238" width="9" height="21" fill="#00ff00"/>
<rect x="645" y="207" width="1" height="53" fill="#000"/>
<rect x="640" y="223" width="11" height="36" fill="#000"/>
<rect x="641" y="224" width="9" height="34" fill="#ff0000"/>
<rect x="661" y="199" width="1" height="48" fill="#000"/>
<rect x="656" y="201" width="11" height="23" fill="#000"/>
<rect x="657" y="202" width="9" height="21" fill="#ff0000"/>
<rect x="677" y="188" width="1" height="49" fill="#000"/>
<rect x="672" y="201" width="11" height="20" fill="#000"/>
<rect x="673" y="202" width="9" height="18" fill="#00ff00"/>
<rect x="693" y="220" width="1" height="143" fill="#000"/>
<rect x="688" y="220" width="11" height="100" fill="#000"/>
<rect x="689" y="221" width="9" height="98" fill="#00ff00"/>
<rect x="709" y="314" width="1" height="94" fill="#000"/>
<rect x="704" y="319" width="11" height="87" fill="#000"/>
<rect x="705" y="320" width="9" height="85" fill="#00ff00"/>
<rect x="725" y="388" width="1" height="19" fill="#000"/>
<rect x="720" y="395" width="11" height="11" fill="#000"/>
<rect x="721" y="396" width="9" height="9" fill="#ff0000"/>
<rect x="741" y="380" width="1" height="23" fill="#000"/>
<rect x="736" y="395" width="11" height="3" fill="#000"/>
<rect x="737" y="396" width="9" height="1" fill="#00ff00"/>
<rect x="757" y="379" width="1" height="48" fill="#000"/>
<rect x="752" y="397" width="11" height="16" fill="#000"/>
<rect x="753" y="398" width="9" height="14" fill="#00ff00"/>
<rect x="773" y="308" width="1" height="108" fill="#000"/>
<rect x="768" y="317" width="11" height="96" fill="#000"/>
<rect x="769" y="318" width="9" height="94" fill="#ff0000"/>
<rect x="789" y="299" width="1" height="52" fill="#000"/>
<rect x="784" y="317" width="11" height="4" fill="#000"/>
<rect x="785" y="318" width="9" height="2" fill="#00ff00"/>
<rect x="805" y="305" width="1" height="32" fill="#000"/>
<rect x="800" y="320" width="11" height="11" fill="#000"/>
<rect x="801" y="321" width="9" height="9" fill="#00ff00"/>
<rect x="821" y="329" width="1" height="7" fill="#000"/>
<rect x="816" y="334" width="11" height="1" fill="#000"/>
<rect x="837" y="327" width="1" height="17" fill="#000"/>
<rect x="832" y="334" width="11" height="4" fill="#000"/>
<rect x="833" y="335" width="9" height="2" fill="#00ff00"/>
<rect x="853" y="319" width="1" height="25" fill="#000"/>
<rect x="848" y="331" width="11" height="7" fill="#000"/>
<rect x="849" y="332" width="9" height="5" fill="#ff0000"/>
<rect x="869" y="314" width="1" height="39" fill="#000"/>
<rect x="864" y="325" width="11" height="6" fill="#000"/>
<rect x="865" y="326" width="9" height="4" fill="#ff0000"/>
<rect x="885" y="316" width="1" height="44" fill="#000"/>
<rect x="880" y="325" width="11" height="8" fill="#000"/>
<rect x="881" y="326" width="9" height="6" fill="#00ff00"/>
<rect x="901" y="320" width="1" height="36" fill="#000"/>
<rect x="896" y="332" width="11" height="22" fill="#000"/>
<rect x="897" y="333" width="9" height="20" fill="#00ff00"/>
<rect x="917" y="346" width="1" height="11" fill="#000"/>
<rect x="912" y="353" width="11" height="4" fill="#000"/>
<rect x="913" y="354" width="9" height="2" fill="#00ff00"/>
<rect x="933" y="351" width="1" height="22" fill="#000"/>
<rect x="928" y="356" width="11" height="10" fill="#000"/>
<rect x="929" y="357" width="9" height="8" fill="#00ff00"/>
<rect x="949" y="348" width="1" height="26" fill="#000"/>
<rect x="944" y="365" width="11" height="5" fill="#000"/>
<rect x="945" y="366" width="9" height="3" fill="#00ff00"/>
<rect x="965" y="355" width="1" height="55" fill="#000"/>
<rect x="960" y="369" width="11" height="36" fill="#000"/>
<rect x="961" y="370" width="9" height="34" fill="#00ff00"/>
<rect x="981" y="393" width="1" height="56" fill="#000"/>
<rect x="976" y="404" width="11" height="39" fill="#000"/>
<rect x="977" y="405" width="9" height="37" fill="#00ff00"/>
<rect x="997" y="408" width="1" height="38" fill="#000"/>
<rect x="992" y="414" width="11" height="29" fill="#000"/>
<rect x="993" y="415" width="9" height="27" fill="#ff0000"/>
<rect x="1013" y="382" width="1" height="35" fill="#000"/>
<rect x="1008" y="393" width="11" height="22" fill="#000"/>
<rect x="1009" y="394" width="9" height="20" fill="#ff0000"/>
<rect x="1029" y="393" width="1" height="33" fill="#000"/>
<rect x="1024" y="393" width="11" height="22" fill="#000"/>
<rect x="1025" y="394" width="9" height="20" fill="#00ff00"/>
<rect x="1045" y="393" width="1" height="36" fill="#000"/>
<rect x="1040" y="396" width="11" height="19" fill="#000"/>
<rect x="1041" y="397" width="9" height="17" fill="#ff0000"/>
<rect x="1061" y="389" width="1" height="37" fill="#000"/>
<rect x="1056" y="396" width="11" height="30" fill="#000"/>
<rect x="1057" y="397" width="9" height="28" fill="#00ff00"/>
<rect x="1077" y="416" width="1" height="95" fill="#000"/>
<rect x="1072" y="425" width="11" height="55" fill="#000"/>
<rect x="1073" y="426" width="9" height="53" fill="#00ff00"/>
<rect x="1093" y="451" width="1" height="31" fill="#000"/>
<rect x="1088" y="476" width="11" height="4" fill="#000"/>
<rect x="1089" y="477" width="9" height="2" fill="#ff0000"/>
<rect x="1109" y="468" width="1" height="14" fill="#000"/>
<rect x="1104" y="471" width="11" height="6" fill="#000"/>
<rect x="1105" y="472" width="9" height="4" fill="#ff0000"/>
<rect x="1125" y="461" width="1" height="20" fill="#000"/>
<rect x="1120" y="471" width="11" height="1" fill="#000"/>
<rect x="1141" y="471" width="1" height="37" fill="#000"/>
<rect x="1136" y="471" width="11" height="32" fill="#000"/>
<rect x="1137" y="472" width="9" height="30" fill="#00ff00"/>
<rect x="1157" y="490" width="1" height="82" fill="#000"/>
<rect x="1152" y="502" width="11" height="43" fill="#000"/>
<rect x="1153" y="503" width="9" height="41" fill="#00ff00"/>
<rect x="1173" y="466" width="1" height="89" fill="#000"/>
<rect x="1168" y="483" width="11" height="62" fill="#000"/>
<rect x="1169" y="484" width="9" height="60" fill="#ff0000"/>
<rect x="1189" y="465" width="1" height="29" fill="#000"/>
<rect x="1184" y="483" width="11" height="5" fill="#000"/>
<rect x="1185" y="484" width="9" height="3" fill="#00ff00"/>
<rect x="1205" y="473" width="1" height="16" fill="#000"/>
<rect x="1200" y="474" width="11" height="14" fill="#000"/>
<rect x="1201" y="475" width="9" height="12" fill="#ff0000"/>
<rect x="1221" y="448" width="1" height="32" fill="#000"/>
<rect x="1216" y="457" width="11" height="18" fill="#000"/>
<rect x="1217" y="458" width="9" height="16" fill="#ff0000"/>
<rect x="1237" y="453" width="1" height="36" fill="#000"/>
<rect x="1232" y="457" width="11" height="28" fill="#000"/>
<rect x="1233" y="458" width="9" height="26" fill="#00ff00"/>
<rect x="1253" y="479" width="1" height="18" fill="#000"/>
<rect x="1248" y="484" width="11" height="12" fill="#000"/>
<rect x="1249" y="485" width="9" height="10" fill="#00ff00"/>
<rect x="1269" y="405" width="1" height="100" fill="#000"/>
<rect x="1264" y="415" width="11" height="81" fill="#000"/>
<rect x="1265" y="416" width="9" height="79" fill="#ff0000"/>
<rect x="1285" y="396" width="1" height="45" fill="#000"/>
<rect x="1280" y="415" width="11" height="21" fill="#000"/>
<rect x="1281" y="416" width="9" height="19" fill="#00ff00"/>
</g>
<rect x="5" y="369" width="1639" height="2" fill="#ff0000"/>
<rect x="4" y="367" width="6" height="6" fill="#ff0000"/>
<rect x="6" y="369" width="2" height="2" fill="#fff"/>
<rect x="1638" y="367" width="6" height="6" fill="#ff0000"/>
<rect x="1640" y="369" width="2" height="2" fill="#fff"/>
<rect x="5" y="400" width="1639" height="2" fill="#ff0000"/>
<rect x="5" y="449" width="1639" height="2" fill="#32cd32"/>
<rect x="4" y="447" width="6" height="6" fill="#32cd32"/>
<rect x="6" y="449" width="2" height="2" fill="#fff"/>
<rect x="1638" y="447" width="6" height="6" fill="#32cd32"/>
<rect x="1640" y="449" width="2" height="2" fill="#fff"/>
<rect x="5" y="486" width="1639" height="2" fill="#0000ff"/>
<rect x="4" y="484" width="6" height="6" fill="#0000ff"/>
<rect x="6" y="486" width="2" height="2" fill="#fff"/>
<rect x="1638" y="484" width="6" height="6" fill="#0000ff"/>
<rect x="1640" y="486" width="2" height="2" fill="#fff"/>
<rect x="5" y="517" width="1639" height="2" fill="#0000ff"/>
<rect x="4" y="515" width="6" height="6" fill="#0000ff"/>
<rect x="6" y="517" width="2" height="2" fill="#fff"/>
<rect x="1638" y="515" width="6" height="6" fill="#0000ff"/>
<rect x="1640" y="517" width="2" height="2" fill="#fff"/>
</g>
<g id="arrow">
<path d="M1277 552 L1358 493" stroke="#e3141e" stroke-width="3" fill="none"/>
<path d="M1371 483.3 L1352.5 486.3 L1362.5 500 Z" fill="#e3141e"/>
</g>
<g id="axis" class="c">
<rect x="1645" y="54" width="2" height="1" fill="#000"/>
<rect x="1645" y="87" width="2" height="1" fill="#000"/>
<rect x="1645" y="120" width="2" height="1" fill="#000"/>
<rect x="1645" y="153" width="2" height="1" fill="#000"/>
<rect x="1645" y="186" width="2" height="1" fill="#000"/>
<rect x="1645" y="219" width="2" height="1" fill="#000"/>
<rect x="1645" y="252" width="2" height="1" fill="#000"/>
<rect x="1645" y="285" width="2" height="1" fill="#000"/>
<rect x="1645" y="318" width="2" height="1" fill="#000"/>
<rect x="1645" y="351" width="2" height="1" fill="#000"/>
<rect x="1645" y="384" width="2" height="1" fill="#000"/>
<rect x="1645" y="417" width="2" height="1" fill="#000"/>
<rect x="1645" y="549" width="2" height="1" fill="#000"/>
<rect x="1645" y="582" width="2" height="1" fill="#000"/>
<rect x="1645" y="450" width="2" height="1" fill="#000"/>
<rect x="1645" y="487" width="2" height="1" fill="#000"/>
<rect x="1645" y="518" width="2" height="1" fill="#000"/>
<rect x="1645" y="370" width="2" height="1" fill="#000"/>
<rect x="1645" y="588" width="1" height="1" fill="#000"/>
<rect x="1645" y="647" width="2" height="1" fill="#000"/>
<rect x="1645" y="702" width="1" height="1" fill="#000"/>
<rect x="1645" y="706" width="1" height="1" fill="#000"/>
<rect x="1645" y="827" width="1" height="1" fill="#000"/>
</g>
<text x="1650.5" y="487" font-size="10.2" fill="#000" stroke="#000" stroke-width="0.14" textLength="32.2" lengthAdjust="spacingAndGlyphs">1.27060</text>
<g class="c">
<rect x="1646" y="364" width="41" height="11" fill="#ff0000"/>
<rect x="1646" y="395" width="41" height="11" fill="#ff0000"/>
<rect x="1646" y="430" width="41" height="11" fill="#000"/>
<rect x="1646" y="444" width="41" height="11" fill="#32cd32"/>
<rect x="1646" y="481" width="41" height="11" fill="#0000ff"/>
<rect x="1646" y="512" width="41" height="11" fill="#0000ff"/>
</g>
<g id="axistext">
<text x="1650.5" y="58" font-size="10.2" fill="#000" stroke="#000" stroke-width="0.14" textLength="32.2" lengthAdjust="spacingAndGlyphs">1.31260</text>
<text x="1650.5" y="91" font-size="10.2" fill="#000" stroke="#000" stroke-width="0.14" textLength="32.2" lengthAdjust="spacingAndGlyphs">1.30935</text>
<text x="1650.5" y="124" font-size="10.2" fill="#000" stroke="#000" stroke-width="0.14" textLength="32.2" lengthAdjust="spacingAndGlyphs">1.30610</text>
<text x="1650.5" y="157" font-size="10.2" fill="#000" stroke="#000" stroke-width="0.14" textLength="32.2" lengthAdjust="spacingAndGlyphs">1.30290</text>
<text x="1650.5" y="190" font-size="10.2" fill="#000" stroke="#000" stroke-width="0.14" textLength="32.2" lengthAdjust="spacingAndGlyphs">1.29965</text>
<text x="1650.5" y="223" font-size="10.2" fill="#000" stroke="#000" stroke-width="0.14" textLength="32.2" lengthAdjust="spacingAndGlyphs">1.29645</text>
<text x="1650.5" y="256" font-size="10.2" fill="#000" stroke="#000" stroke-width="0.14" textLength="32.2" lengthAdjust="spacingAndGlyphs">1.29320</text>
<text x="1650.5" y="289" font-size="10.2" fill="#000" stroke="#000" stroke-width="0.14" textLength="32.2" lengthAdjust="spacingAndGlyphs">1.29000</text>
<text x="1650.5" y="322" font-size="10.2" fill="#000" stroke="#000" stroke-width="0.14" textLength="32.2" lengthAdjust="spacingAndGlyphs">1.28675</text>
<text x="1650.5" y="355" font-size="10.2" fill="#000" stroke="#000" stroke-width="0.14" textLength="32.2" lengthAdjust="spacingAndGlyphs">1.28350</text>
<text x="1650.5" y="388" font-size="10.2" fill="#000" stroke="#000" stroke-width="0.14" textLength="32.2" lengthAdjust="spacingAndGlyphs">1.28030</text>
<text x="1650.5" y="421" font-size="10.2" fill="#000" stroke="#000" stroke-width="0.14" textLength="32.2" lengthAdjust="spacingAndGlyphs">1.27705</text>
<text x="1650.5" y="553" font-size="10.2" fill="#000" stroke="#000" stroke-width="0.14" textLength="32.2" lengthAdjust="spacingAndGlyphs">1.26415</text>
<text x="1650.5" y="586" font-size="10.2" fill="#000" stroke="#000" stroke-width="0.14" textLength="32.2" lengthAdjust="spacingAndGlyphs">1.26090</text>
<text x="1650.5" y="373" font-size="10.2" fill="#fff" stroke="#fff" stroke-width="0.14" textLength="32.2" lengthAdjust="spacingAndGlyphs">1.28170</text>
<text x="1650.5" y="404" font-size="10.2" fill="#fff" stroke="#fff" stroke-width="0.14" textLength="32.2" lengthAdjust="spacingAndGlyphs">1.27863</text>
<text x="1650.5" y="439" font-size="10.2" fill="#fff" stroke="#fff" stroke-width="0.14" textLength="32.2" lengthAdjust="spacingAndGlyphs">1.27534</text>
<text x="1650.5" y="453" font-size="10.2" fill="#fff" stroke="#fff" stroke-width="0.14" textLength="32.2" lengthAdjust="spacingAndGlyphs">1.27388</text>
<text x="1650.5" y="490" font-size="10.2" fill="#fff" stroke="#fff" stroke-width="0.14" textLength="32.2" lengthAdjust="spacingAndGlyphs">1.27027</text>
<text x="1650.5" y="521" font-size="10.2" fill="#fff" stroke="#fff" stroke-width="0.14" textLength="32.2" lengthAdjust="spacingAndGlyphs">1.26724</text>
<text x="1648.5" y="598" font-size="10.2" fill="#000" stroke="#000" stroke-width="0.14" textLength="37.2" lengthAdjust="spacingAndGlyphs">0.005415</text>
<text x="1648.5" y="651" font-size="10.2" fill="#000" stroke="#000" stroke-width="0.14" textLength="17.2" lengthAdjust="spacingAndGlyphs">0.00</text>
<text x="1648.5" y="700" font-size="10.2" fill="#000" stroke="#000" stroke-width="0.14" textLength="35.2" lengthAdjust="spacingAndGlyphs">-0.00513</text>
<text x="1649.0" y="716" font-size="10.2" fill="#000" stroke="#000" stroke-width="0.14" textLength="14.850000000000001" lengthAdjust="spacingAndGlyphs">100</text>
<text x="1647.5" y="735" font-size="10.2" fill="#000" stroke="#000" stroke-width="0.14" textLength="9.9" lengthAdjust="spacingAndGlyphs">80</text>
<text x="1647.5" y="771" font-size="10.2" fill="#000" stroke="#000" stroke-width="0.14" textLength="9.9" lengthAdjust="spacingAndGlyphs">50</text>
<text x="1647.5" y="813" font-size="10.2" fill="#000" stroke="#000" stroke-width="0.14" textLength="9.9" lengthAdjust="spacingAndGlyphs">15</text>
<text x="1647.8" y="825" font-size="10.2" fill="#000" stroke="#000" stroke-width="0.14" textLength="4.95" lengthAdjust="spacingAndGlyphs">0</text>
</g>
<g id="macd" class="c">
<rect x="5" y="606" width="2" height="41" fill="#00ff00"/>
<rect x="20" y="612" width="3" height="35" fill="#00ff00"/>
<rect x="36" y="619" width="3" height="28" fill="#00ff00"/>
<rect x="52" y="624" width="3" height="23" fill="#00ff00"/>
<rect x="68" y="630" width="3" height="17" fill="#00ff00"/>
<rect x="84" y="641" width="3" height="6" fill="#00ff00"/>
<rect x="100" y="647" width="3" height="8" fill="#00ff00"/>
<rect x="116" y="647" width="3" height="18" fill="#00ff00"/>
<rect x="132" y="647" width="3" height="23" fill="#00ff00"/>
<rect x="148" y="647" width="3" height="26" fill="#00ff00"/>
<rect x="164" y="647" width="3" height="27" fill="#00ff00"/>
<rect x="180" y="647" width="3" height="31" fill="#00ff00"/>
<rect x="196" y="647" width="3" height="35" fill="#00ff00"/>
<rect x="212" y="647" width="3" height="42" fill="#00ff00"/>
<rect x="228" y="647" width="3" height="46" fill="#00ff00"/>
<rect x="244" y="647" width="3" height="47" fill="#00ff00"/>
<rect x="260" y="647" width="3" height="47" fill="#00ff00"/>
<rect x="276" y="647" width="3" height="48" fill="#00ff00"/>
<rect x="292" y="647" width="3" height="51" fill="#00ff00"/>
<rect x="308" y="647" width="3" height="51" fill="#00ff00"/>
<rect x="324" y="647" width="3" height="50" fill="#00ff00"/>
<rect x="340" y="647" width="3" height="49" fill="#00ff00"/>
<rect x="356" y="647" width="3" height="46" fill="#00ff00"/>
<rect x="372" y="647" width="3" height="46" fill="#00ff00"/>
<rect x="388" y="647" width="3" height="44" fill="#00ff00"/>
<rect x="404" y="647" width="3" height="45" fill="#00ff00"/>
<rect x="420" y="647" width="3" height="45" fill="#00ff00"/>
<rect x="436" y="647" width="3" height="46" fill="#00ff00"/>
<rect x="452" y="647" width="3" height="43" fill="#00ff00"/>
<rect x="468" y="647" width="3" height="39" fill="#00ff00"/>
<rect x="484" y="647" width="3" height="38" fill="#00ff00"/>
<rect x="500" y="647" width="3" height="33" fill="#00ff00"/>
<rect x="516" y="647" width="3" height="26" fill="#00ff00"/>
<rect x="532" y="647" width="3" height="21" fill="#00ff00"/>
<rect x="548" y="647" width="3" height="17" fill="#00ff00"/>
<rect x="564" y="647" width="3" height="13" fill="#00ff00"/>
<rect x="580" y="647" width="3" height="9" fill="#00ff00"/>
<rect x="596" y="647" width="3" height="4" fill="#00ff00"/>
<rect x="612" y="644" width="3" height="3" fill="#00ff00"/>
<rect x="628" y="642" width="3" height="5" fill="#00ff00"/>
<rect x="644" y="637" width="3" height="10" fill="#00ff00"/>
<rect x="660" y="632" width="3" height="15" fill="#00ff00"/>
<rect x="676" y="629" width="3" height="18" fill="#00ff00"/>
<rect x="692" y="636" width="3" height="11" fill="#00ff00"/>
<rect x="708" y="647" width="3" height="2" fill="#00ff00"/>
<rect x="724" y="647" width="3" height="11" fill="#00ff00"/>
<rect x="740" y="647" width="3" height="18" fill="#00ff00"/>
<rect x="756" y="647" width="3" height="25" fill="#00ff00"/>
<rect x="772" y="647" width="3" height="22" fill="#00ff00"/>
<rect x="788" y="647" width="3" height="19" fill="#00ff00"/>
<rect x="804" y="647" width="3" height="18" fill="#00ff00"/>
<rect x="820" y="647" width="3" height="17" fill="#00ff00"/>
<rect x="836" y="647" width="3" height="16" fill="#00ff00"/>
<rect x="852" y="647" width="3" height="15" fill="#00ff00"/>
<rect x="868" y="647" width="3" height="14" fill="#00ff00"/>
<rect x="884" y="647" width="3" height="13" fill="#00ff00"/>
<rect x="900" y="647" width="3" height="15" fill="#00ff00"/>
<rect x="916" y="647" width="3" height="15" fill="#00ff00"/>
<rect x="932" y="647" width="3" height="15" fill="#00ff00"/>
<rect x="948" y="647" width="3" height="17" fill="#00ff00"/>
<rect x="964" y="647" width="3" height="21" fill="#00ff00"/>
<rect x="980" y="647" width="3" height="27" fill="#00ff00"/>
<rect x="996" y="647" width="3" height="29" fill="#00ff00"/>
<rect x="1012" y="647" width="3" height="28" fill="#00ff00"/>
<rect x="1028" y="647" width="3" height="29" fill="#00ff00"/>
<rect x="1044" y="647" width="3" height="28" fill="#00ff00"/>
<rect x="1060" y="647" width="3" height="30" fill="#00ff00"/>
<rect x="1076" y="647" width="3" height="35" fill="#00ff00"/>
<rect x="1092" y="647" width="3" height="38" fill="#00ff00"/>
<rect x="1108" y="647" width="3" height="40" fill="#00ff00"/>
<rect x="1124" y="647" width="3" height="41" fill="#00ff00"/>
<rect x="1140" y="647" width="3" height="44" fill="#00ff00"/>
<rect x="1156" y="647" width="3" height="50" fill="#00ff00"/>
<rect x="1172" y="647" width="3" height="48" fill="#00ff00"/>
<rect x="1188" y="647" width="3" height="47" fill="#00ff00"/>
<rect x="1204" y="647" width="3" height="43" fill="#00ff00"/>
<rect x="1220" y="647" width="3" height="40" fill="#00ff00"/>
<rect x="1236" y="647" width="3" height="39" fill="#00ff00"/>
<rect x="1252" y="647" width="3" height="38" fill="#00ff00"/>
<rect x="1268" y="647" width="3" height="31" fill="#00ff00"/>
<rect x="1284" y="647" width="3" height="26" fill="#00ff00"/>
<polyline points="5.5,595 21.5,598 37.5,602.5 53.5,606 69.5,611 85.5,616.5 101.5,623 117.5,630 133.5,637 149.5,643.75 165.5,650 181.5,656 197.5,662 213.5,669 229.5,675 245.5,680 261.5,682.5 277.5,685.5 293.5,688.5 309.5,690.5 325.5,692 341.5,693.75 357.5,694 373.5,694 389.5,694 405.5,694 421.5,694 437.5,694 453.5,692.5 469.5,691.25 485.5,690 501.5,688.5 517.5,686.25 533.5,683.5 549.5,681 565.5,678 581.5,674 597.5,668.75 613.5,665 629.5,660.5 645.5,656.25 661.5,650.5 677.5,646.25 693.5,643.5 709.5,641.5 725.5,641.5 741.5,643 757.5,646.5 773.5,649.5 789.5,652.5 805.5,656.5 821.5,659.5 837.5,662.5 853.5,664 869.5,664 885.5,664 901.5,662 917.5,661.5 933.5,661 949.5,661.5 965.5,662.5 981.5,663.5 997.5,664.5 1013.5,666.5 1029.5,668.5 1045.5,669.25 1061.5,671.5 1077.5,673 1093.5,676.5 1109.5,678.5 1125.5,679.25 1141.5,681 1157.5,683 1173.5,685.5 1189.5,688.5 1205.5,689.5 1221.5,690 1237.5,690 1253.5,689 1269.5,688 1285.5,686.75" fill="none" stroke="#ff0000" stroke-width="2" stroke-linejoin="round"/>
</g>
<g id="rsi">
<line x1="6" y1="731.5" x2="1643" y2="731.5" stroke="#000" stroke-width="1" stroke-dasharray="3 3" class="c"/>
<line x1="6" y1="767.5" x2="1643" y2="767.5" stroke="#000" stroke-width="1" stroke-dasharray="3 3" class="c"/>
<line x1="6" y1="809.5" x2="1643" y2="809.5" stroke="#000" stroke-width="1" stroke-dasharray="3 3" class="c"/>
<polyline points="5.5,748.75 21.5,766.75 37.5,769.5 53.5,770 69.5,773 85.5,788.5 101.5,794 117.5,794 133.5,783 149.5,783 165.5,780 181.5,786 197.5,788.5 213.5,793 229.5,788 245.5,788 261.5,786 277.5,786 293.5,793 309.5,785 325.5,784 341.5,784 357.5,782 373.5,782.75 389.5,783 405.5,787 421.5,789 437.5,790 453.5,780 469.5,776 485.5,780 501.5,770 517.5,764 533.5,765.75 549.5,766 565.5,762 581.5,761.5 597.5,756 613.5,753.75 629.5,758.75 645.5,752 661.5,749 677.5,753.75 693.5,775 709.5,785.75 725.5,784 741.5,784.5 757.5,786 773.5,768.75 789.5,769.5 805.5,770.75 821.5,771 837.5,771 853.5,771 869.5,770 885.5,770 901.5,774.5 917.5,775 933.5,777.5 949.5,778 965.5,784 981.5,790 997.5,781.5 1013.5,778 1029.5,779.75 1045.5,777.25 1061.5,782 1077.5,788.5 1093.5,788.5 1109.5,787.5 1125.5,786 1141.5,791 1157.5,796 1173.5,780 1189.5,780 1205.5,779 1221.5,774 1237.5,778.75 1253.5,780 1269.5,765 1285.5,766.75" fill="none" stroke="#1e90ff" stroke-width="2" stroke-linejoin="round" class="c"/>
</g>
<g id="titles">
<text x="20" y="39" font-size="10.2" fill="#000" stroke="#000" stroke-width="0.14" textLength="57" lengthAdjust="spacingAndGlyphs">GBPUSD-,H4</text>
<text x="83" y="39" font-size="10.2" fill="#000" stroke="#000" stroke-width="0.14" textLength="33" lengthAdjust="spacingAndGlyphs">1.27725</text>
<text x="119" y="39" font-size="10.2" fill="#000" stroke="#000" stroke-width="0.14" textLength="33" lengthAdjust="spacingAndGlyphs">1.27915</text>
<text x="155" y="39" font-size="10.2" fill="#000" stroke="#000" stroke-width="0.14" textLength="33" lengthAdjust="spacingAndGlyphs">1.27486</text>
<text x="191" y="39" font-size="10.2" fill="#000" stroke="#000" stroke-width="0.14" textLength="33" lengthAdjust="spacingAndGlyphs">1.27534</text>
<text x="9" y="600" font-size="10.2" fill="#000" stroke="#000" stroke-width="0.14" textLength="66" lengthAdjust="spacingAndGlyphs">MACD(12,26,9)</text>
<text x="78" y="600" font-size="10.2" fill="#000" stroke="#000" stroke-width="0.14" textLength="41" lengthAdjust="spacingAndGlyphs">-0.002311</text>
<text x="122" y="600" font-size="10.2" fill="#000" stroke="#000" stroke-width="0.14" textLength="41" lengthAdjust="spacingAndGlyphs">-0.003628</text>
<text x="9" y="718" font-size="10.2" fill="#000" stroke="#000" stroke-width="0.14" textLength="31" lengthAdjust="spacingAndGlyphs">RSI(14)</text>
<text x="43.5" y="718" font-size="10.2" fill="#000" stroke="#000" stroke-width="0.14" textLength="33" lengthAdjust="spacingAndGlyphs">49.8150</text>
</g>
<g id="time">
<rect x="5" y="829" width="1" height="3" fill="#000" class="c"/>
<text x="4" y="841" font-size="10.2" fill="#000" stroke="#000" stroke-width="0.14" textLength="47" lengthAdjust="spacingAndGlyphs">18 Jul 2023</text>
<rect x="69" y="829" width="1" height="3" fill="#000" class="c"/>
<text x="67.5" y="841" font-size="10.2" fill="#000" stroke="#000" stroke-width="0.14" textLength="50.8" lengthAdjust="spacingAndGlyphs">19 Jul 00:00</text>
<rect x="133" y="829" width="1" height="3" fill="#000" class="c"/>
<text x="131.5" y="841" font-size="10.2" fill="#000" stroke="#000" stroke-width="0.14" textLength="50.8" lengthAdjust="spacingAndGlyphs">19 Jul 16:00</text>
<rect x="197" y="829" width="1" height="3" fill="#000" class="c"/>
<text x="195.5" y="841" font-size="10.2" fill="#000" stroke="#000" stroke-width="0.14" textLength="50.8" lengthAdjust="spacingAndGlyphs">20 Jul 08:00</text>
<rect x="261" y="829" width="1" height="3" fill="#000" class="c"/>
<text x="259.5" y="841" font-size="10.2" fill="#000" stroke="#000" stroke-width="0.14" textLength="50.8" lengthAdjust="spacingAndGlyphs">21 Jul 00:00</text>
<rect x="325" y="829" width="1" height="3" fill="#000" class="c"/>
<text x="323.5" y="841" font-size="10.2" fill="#000" stroke="#000" stroke-width="0.14" textLength="50.8" lengthAdjust="spacingAndGlyphs">21 Jul 16:00</text>
<rect x="389" y="829" width="1" height="3" fill="#000" class="c"/>
<text x="387.5" y="841" font-size="10.2" fill="#000" stroke="#000" stroke-width="0.14" textLength="50.8" lengthAdjust="spacingAndGlyphs">24 Jul 08:00</text>
<rect x="453" y="829" width="1" height="3" fill="#000" class="c"/>
<text x="451.5" y="841" font-size="10.2" fill="#000" stroke="#000" stroke-width="0.14" textLength="50.8" lengthAdjust="spacingAndGlyphs">25 Jul 00:00</text>
<rect x="517" y="829" width="1" height="3" fill="#000" class="c"/>
<text x="515.5" y="841" font-size="10.2" fill="#000" stroke="#000" stroke-width="0.14" textLength="50.8" lengthAdjust="spacingAndGlyphs">25 Jul 16:00</text>
<rect x="581" y="829" width="1" height="3" fill="#000" class="c"/>
<text x="579.5" y="841" font-size="10.2" fill="#000" stroke="#000" stroke-width="0.14" textLength="50.8" lengthAdjust="spacingAndGlyphs">26 Jul 08:00</text>
<rect x="645" y="829" width="1" height="3" fill="#000" class="c"/>
<text x="643.5" y="841" font-size="10.2" fill="#000" stroke="#000" stroke-width="0.14" textLength="50.8" lengthAdjust="spacingAndGlyphs">27 Jul 00:00</text>
<rect x="709" y="829" width="1" height="3" fill="#000" class="c"/>
<text x="707.5" y="841" font-size="10.2" fill="#000" stroke="#000" stroke-width="0.14" textLength="50.8" lengthAdjust="spacingAndGlyphs">27 Jul 16:00</text>
<rect x="773" y="829" width="1" height="3" fill="#000" class="c"/>
<text x="771.5" y="841" font-size="10.2" fill="#000" stroke="#000" stroke-width="0.14" textLength="50.8" lengthAdjust="spacingAndGlyphs">28 Jul 08:00</text>
<rect x="837" y="829" width="1" height="3" fill="#000" class="c"/>
<text x="835.5" y="841" font-size="10.2" fill="#000" stroke="#000" stroke-width="0.14" textLength="50.8" lengthAdjust="spacingAndGlyphs">31 Jul 00:00</text>
<rect x="901" y="829" width="1" height="3" fill="#000" class="c"/>
<text x="899.5" y="841" font-size="10.2" fill="#000" stroke="#000" stroke-width="0.14" textLength="50.8" lengthAdjust="spacingAndGlyphs">31 Jul 16:00</text>
<rect x="965" y="829" width="1" height="3" fill="#000" class="c"/>
<text x="963.5" y="841" font-size="10.2" fill="#000" stroke="#000" stroke-width="0.14" textLength="51.5" lengthAdjust="spacingAndGlyphs">1 Aug 08:00</text>
<rect x="1029" y="829" width="1" height="3" fill="#000" class="c"/>
<text x="1027.5" y="841" font-size="10.2" fill="#000" stroke="#000" stroke-width="0.14" textLength="51.5" lengthAdjust="spacingAndGlyphs">2 Aug 00:00</text>
<rect x="1093" y="829" width="1" height="3" fill="#000" class="c"/>
<text x="1091.5" y="841" font-size="10.2" fill="#000" stroke="#000" stroke-width="0.14" textLength="51.5" lengthAdjust="spacingAndGlyphs">2 Aug 16:00</text>
<rect x="1157" y="829" width="1" height="3" fill="#000" class="c"/>
<text x="1155.5" y="841" font-size="10.2" fill="#000" stroke="#000" stroke-width="0.14" textLength="51.5" lengthAdjust="spacingAndGlyphs">3 Aug 08:00</text>
<rect x="1221" y="829" width="1" height="3" fill="#000" class="c"/>
<text x="1219.5" y="841" font-size="10.2" fill="#000" stroke="#000" stroke-width="0.14" textLength="51.5" lengthAdjust="spacingAndGlyphs">4 Aug 00:00</text>
<rect x="1285" y="829" width="1" height="3" fill="#000" class="c"/>
<text x="1283.5" y="841" font-size="10.2" fill="#000" stroke="#000" stroke-width="0.14" textLength="51.5" lengthAdjust="spacingAndGlyphs">4 Aug 16:00</text>
</g>
</svg></body></html>
